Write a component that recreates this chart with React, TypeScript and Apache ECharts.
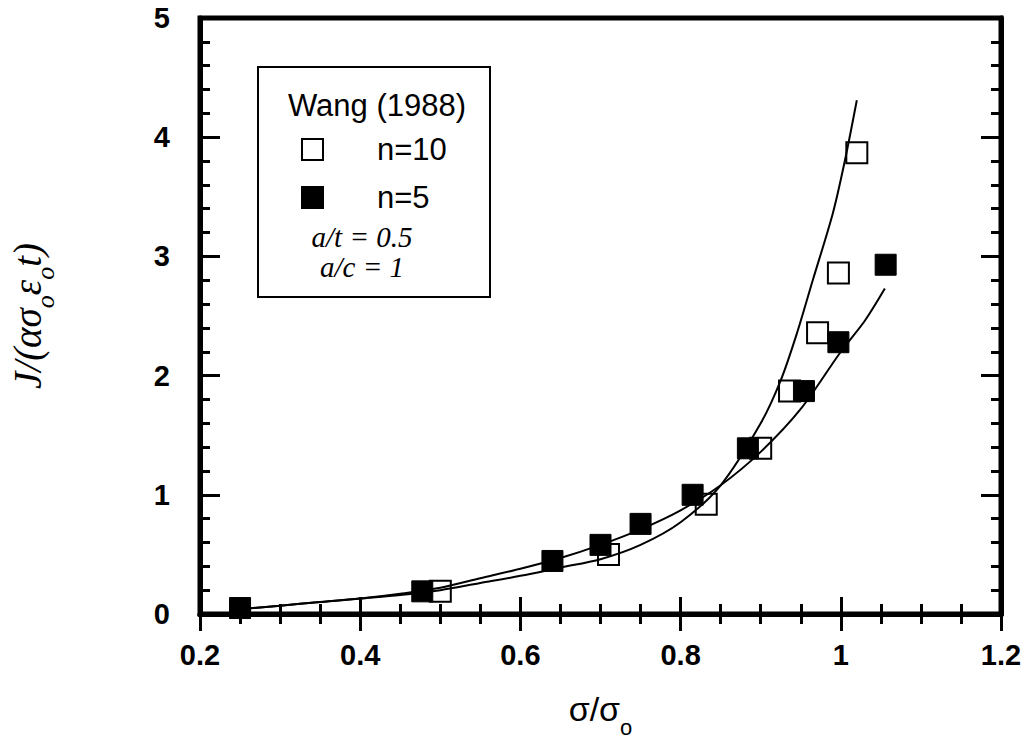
import React, { useEffect, useRef } from "react";
import * as echarts from "echarts";

// Measured points (Wang 1988)
const n10X = [0.5, 0.71, 0.832, 0.9, 0.936, 0.971, 0.997, 1.02];
const n10Y = [0.19, 0.5, 0.92, 1.39, 1.87, 2.36, 2.86, 3.87];
const n5X = [0.25, 0.4775, 0.64, 0.7, 0.75, 0.815, 0.884, 0.954, 0.997, 1.056];
const n5Y = [0.05, 0.19, 0.445, 0.58, 0.756, 1.0, 1.39, 1.87, 2.28, 2.93];

// Fitted curves
const fitN10X = [0.25, 0.3, 0.35, 0.4, 0.45, 0.5, 0.55, 0.6, 0.65, 0.7, 0.75, 0.8, 0.85, 0.9, 0.925, 0.945, 0.965, 0.99, 1.005, 1.02];
const fitN10Y = [0.04, 0.07, 0.1, 0.13, 0.16, 0.2, 0.26, 0.32, 0.39, 0.46, 0.58, 0.77, 1.08, 1.6, 1.96, 2.35, 2.8, 3.36, 3.8, 4.31];
const fitN5X = [0.25, 0.3, 0.35, 0.4, 0.45, 0.5, 0.55, 0.6, 0.65, 0.7, 0.75, 0.8, 0.85, 0.9, 0.95, 1.0, 1.03, 1.055];
const fitN5Y = [0.04, 0.07, 0.1, 0.13, 0.17, 0.22, 0.3, 0.38, 0.47, 0.58, 0.71, 0.87, 1.08, 1.36, 1.72, 2.2, 2.46, 2.73];

const xTicks = { min: 0.2, max: 1.2, interval: 0.2 };
const yTicks = { min: 0, max: 5, interval: 1 };

const legendTitle = "Wang (1988)";
const series10Name = "n=10";
const series5Name = "n=5";
const noteLines = ["a/t = 0.5", "a/c = 1"];

const zip = (xs: number[], ys: number[]) => xs.map((x, i) => [x, ys[i]]);

const SANS = "'Liberation Sans', Arial, Helvetica, sans-serif";
const SERIF = "'Liberation Serif', 'Times New Roman', serif";

export default function App() {
  const ref = useRef<HTMLDivElement>(null);
  useEffect(() => {
    if (!ref.current) return;
    const chart = echarts.init(ref.current, undefined, { renderer: "svg" });
    const axisLine = { show: true, lineStyle: { color: "#000", width: 5 } };
    const xCommon = {
      type: "value",
      min: xTicks.min,
      max: xTicks.max,
      interval: xTicks.interval,
      axisLine,
      axisTick: { show: true, inside: true, length: 17, lineStyle: { color: "#000", width: 3 } },
      minorTick: { show: true, splitNumber: 4, length: 10, lineStyle: { color: "#000", width: 3 } },
      splitLine: { show: false },
    };
    const yCommon = {
      type: "value",
      min: yTicks.min,
      max: yTicks.max,
      interval: yTicks.interval,
      axisLine,
      axisTick: { show: true, inside: true, length: 20, lineStyle: { color: "#000", width: 3 } },
      minorTick: { show: true, splitNumber: 5, length: 10, lineStyle: { color: "#000", width: 3 } },
      splitLine: { show: false },
    };
    chart.setOption({
      animation: false,
      backgroundColor: "#fff",
      grid: {
        left: 198,
        right: 33,
        top: 18,
        bottom: 133,
        containLabel: false,
        show: true,
        borderColor: "#000",
        borderWidth: 5,
        backgroundColor: "transparent",
      },
      xAxis: [
        {
          ...xCommon,
          position: "bottom",
          axisLabel: { show: true, color: "#000", fontFamily: SANS, fontWeight: "bold", fontSize: 29, margin: 26 },
          name: "{m|σ/σ}{s|o}",
          nameLocation: "middle",
          nameGap: 78,
          nameTextStyle: {
            rich: {
              m: { fontFamily: SANS, fontSize: 34, color: "#000", lineHeight: 46, verticalAlign: "top" },
              s: { fontFamily: SANS, fontSize: 22, color: "#000", lineHeight: 46, verticalAlign: "bottom" },
            },
          },
        },
        { ...xCommon, position: "top", axisLabel: { show: false } },
      ],
      yAxis: [
        {
          ...yCommon,
          position: "left",
          axisLabel: { show: true, color: "#000", fontFamily: SANS, fontWeight: "bold", fontSize: 29, margin: 30 },
          name: "{i|J/(ασ}{s|o}{i|ε}{s|o}{i|t)}",
          nameLocation: "middle",
          nameGap: 142,
          nameRotate: 90,
          nameTextStyle: {
            rich: {
              i: { fontFamily: SERIF, fontStyle: "italic", fontSize: 39, color: "#000", lineHeight: 50, verticalAlign: "top" },
              s: { fontFamily: SERIF, fontStyle: "italic", fontSize: 26, color: "#000", lineHeight: 50, verticalAlign: "bottom" },
            },
          },
        },
        { ...yCommon, position: "right", axisLabel: { show: false } },
      ],
      legend: {
        data: [series10Name, series5Name],
        orient: "vertical",
        left: 301,
        top: 134,
        itemWidth: 21,
        itemHeight: 21,
        itemGap: 17,
        padding: 0,
        textStyle: { fontFamily: SANS, fontSize: 31, color: "#000", lineHeight: 21, padding: [0, 0, 0, 49] },
      },
      graphic: [
        {
          type: "rect",
          shape: { x: 258, y: 67, width: 232, height: 230 },
          style: { fill: "#fff", stroke: "#000", lineWidth: 2 },
          z: 0,
        },
        {
          type: "text",
          x: 288,
          y: 105,
          style: { text: legendTitle, fontFamily: SANS, fontSize: 31, fill: "#000", verticalAlign: "middle" },
          z: 10,
        },
        {
          type: "text",
          x: 362,
          y: 237,
          style: { text: noteLines[0], fontFamily: SERIF, fontStyle: "italic", fontSize: 29, fill: "#000", align: "center", verticalAlign: "middle" },
          z: 10,
        },
        {
          type: "text",
          x: 362,
          y: 267,
          style: { text: noteLines[1], fontFamily: SERIF, fontStyle: "italic", fontSize: 29, fill: "#000", align: "center", verticalAlign: "middle" },
          z: 10,
        },
      ],
      series: [
        {
          name: series10Name,
          type: "scatter",
          symbol: "rect",
          symbolSize: 21,
          data: zip(n10X, n10Y),
          itemStyle: { color: "#fff", borderColor: "#000", borderWidth: 2, opacity: 1 },
          z: 3,
        },
        {
          name: series5Name,
          type: "scatter",
          symbol: "rect",
          symbolSize: 21,
          data: zip(n5X, n5Y),
          itemStyle: { color: "#000", borderColor: "#000", borderWidth: 1, opacity: 1 },
          z: 3,
        },
        {
          name: "fit n=10",
          type: "line",
          data: zip(fitN10X, fitN10Y),
          smooth: 0.3,
          symbol: "none",
          lineStyle: { color: "#000", width: 2 },
          z: 4,
        },
        {
          name: "fit n=5",
          type: "line",
          data: zip(fitN5X, fitN5Y),
          smooth: 0.3,
          symbol: "none",
          lineStyle: { color: "#000", width: 2 },
          z: 4,
        },
      ],
    });
    return () => chart.dispose();
  }, []);
  return <div ref={ref} style={{ width: 1034, height: 747, position: "absolute", left: 0, top: 0 }} />;
}
